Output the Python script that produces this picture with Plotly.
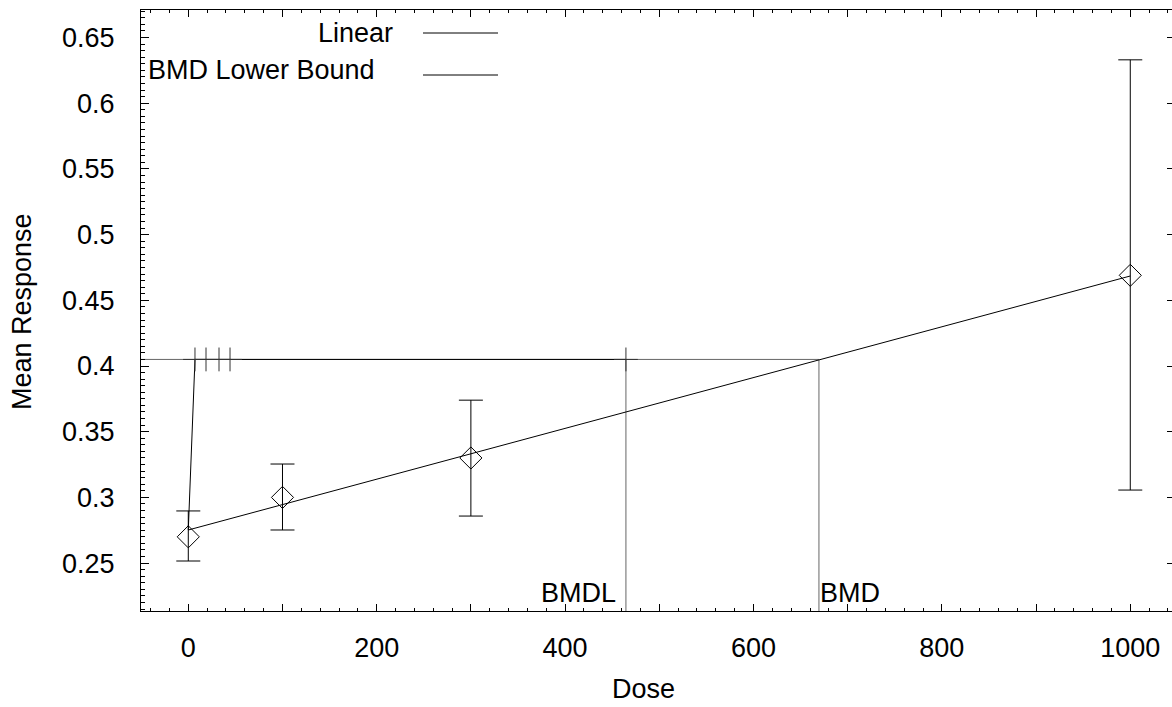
import plotly.graph_objects as go

# ---- data ----
dose = [0, 100, 300, 1000]
mean_resp = [0.270, 0.300, 0.330, 0.469]
err_upper = [0.2897, 0.3254, 0.3740, 0.6330]
err_lower = [0.2516, 0.2752, 0.2858, 0.3056]

fit_dose = [0, 1000]
fit_resp = [0.2752, 0.4685]

bmr = 0.405
bmd = 669.5
bmdl = 464.6

lower_dose = [0, 7.1, bmdl]
lower_resp = [0.2752, bmr, bmr]
lower_tick_dose = [7.1, 18.8, 32.6, 44.3, bmdl]

x_range = [-50.2, 1044.3]
y_range = [0.21355, 0.67093]

x_tickvals = [0, 100, 200, 300, 400, 500, 600, 700, 800, 900, 1000]
x_ticktext = ["0", "", "200", "", "400", "", "600", "", "800", "", "1000"]

FONT = "Liberation Sans, Arial, sans-serif"
FS = 27

fig = go.Figure()

# BMR reference line and BMD / BMDL verticals
fig.add_trace(go.Scatter(x=[x_range[0], bmd], y=[bmr, bmr], mode="lines",
                         line=dict(color="#666666", width=1), hoverinfo="skip"))
fig.add_trace(go.Scatter(x=[bmdl, bmdl], y=[y_range[0], bmr], mode="lines",
                         line=dict(color="#666666", width=1), hoverinfo="skip"))
fig.add_trace(go.Scatter(x=[bmd, bmd], y=[y_range[0], bmr], mode="lines",
                         line=dict(color="#666666", width=1), hoverinfo="skip"))

# Linear fit
fig.add_trace(go.Scatter(x=fit_dose, y=fit_resp, mode="lines", name="Linear",
                         line=dict(color="black", width=1)))

# BMD lower bound
fig.add_trace(go.Scatter(x=lower_dose, y=lower_resp, mode="lines", name="BMD Lower Bound",
                         line=dict(color="black", width=1)))
fig.add_trace(go.Scatter(x=lower_tick_dose, y=[bmr] * len(lower_tick_dose), mode="markers",
                         marker=dict(symbol="cross-thin", size=17, color="black",
                                     line=dict(width=1, color="#333333")),
                         hoverinfo="skip"))

# Observed means with error bars
fig.add_trace(go.Scatter(
    x=dose, y=mean_resp, mode="markers",
    marker=dict(symbol="diamond-open", size=17, color="black", line=dict(width=1, color="black")),
    error_y=dict(type="data", symmetric=False,
                 array=[u - m for u, m in zip(err_upper, mean_resp)],
                 arrayminus=[m - l for m, l in zip(mean_resp, err_lower)],
                 color="black", thickness=1, width=12),
))

# layout geometry
W, H = 1172, 707
L, R, T, B = 141, 0, 10, 96
pw, ph = W - L - R, H - T - B


def px(xp):
    return (xp - L) / pw


def py(yp):
    return (H - B - yp) / ph


annotations = [
    dict(text="Linear", x=px(395), y=py(33), xref="paper", yref="paper",
         xanchor="right", yanchor="middle", showarrow=False),
    dict(text="BMD Lower Bound", x=px(377), y=py(70), xref="paper", yref="paper",
         xanchor="right", yanchor="middle", showarrow=False),
    dict(text="BMDL", x=bmdl, y=py(593), xref="x", yref="paper",
         xanchor="right", yanchor="middle", showarrow=False, xshift=-8),
    dict(text="BMD", x=bmd, y=py(593), xref="x", yref="paper",
         xanchor="left", yanchor="middle", showarrow=False, xshift=-1),
    dict(text="Dose", x=px(643), y=py(689), xref="paper", yref="paper",
         xanchor="center", yanchor="middle", showarrow=False, borderpad=0),
    dict(text="Mean Response", x=px(22), y=py(312), xref="paper", yref="paper",
         xanchor="center", yanchor="middle", showarrow=False, textangle=-90),
]

shapes = [
    dict(type="line", xref="paper", yref="paper", x0=px(423), x1=px(498), y0=py(33), y1=py(33),
         line=dict(color="black", width=1)),
    dict(type="line", xref="paper", yref="paper", x0=px(423), x1=px(498), y0=py(75), y1=py(75),
         line=dict(color="black", width=1)),
]

fig.update_layout(
    width=W, height=H,
    margin=dict(l=L, r=R, t=T, b=B, autoexpand=False),
    paper_bgcolor="white", plot_bgcolor="white",
    showlegend=False,
    font=dict(family=FONT, size=FS, color="black"),
    annotations=annotations,
    shapes=shapes,
    xaxis=dict(range=x_range, showgrid=False, zeroline=False, automargin=False,
               showline=True, linecolor="black", linewidth=1, mirror="ticks",
               tickmode="array", tickvals=x_tickvals, ticktext=x_ticktext,
               ticks="inside", ticklen=7, tickcolor="black", tickwidth=1,
               ticklabelstandoff=13,
               minor=dict(dtick=20, tick0=0, ticks="inside", ticklen=3,
                          tickcolor="black", tickwidth=1, showgrid=False),
               tickfont=dict(family=FONT, size=FS)),
    yaxis=dict(range=y_range, showgrid=False, zeroline=False, automargin=False,
               showline=True, linecolor="black", linewidth=1, mirror=True,
               dtick=0.05, tick0=0,
               ticks="inside", ticklen=8, tickcolor="black", tickwidth=1,
               ticklabelstandoff=20,
               minor=dict(dtick=0.005, tick0=0, ticks="inside", ticklen=4,
                          tickcolor="black", tickwidth=1, showgrid=False),
               tickfont=dict(family=FONT, size=FS)),
    yaxis2=dict(range=y_range, overlaying="y", side="right", showgrid=False,
                zeroline=False, showticklabels=False, dtick=0.05, tick0=0,
                automargin=False,
                ticks="inside", ticklen=5, tickcolor="black", tickwidth=1,
                showline=False),
)

# invisible trace to activate the right-hand tick axis
fig.add_trace(go.Scatter(x=[dose[0]], y=[mean_resp[0]], yaxis="y2", mode="markers",
                         marker=dict(opacity=0), hoverinfo="skip"))

fig.write_html("out.html", config={"displayModeBar": False},
               post_script="document.body.style.margin='0';document.body.style.padding='0';")
